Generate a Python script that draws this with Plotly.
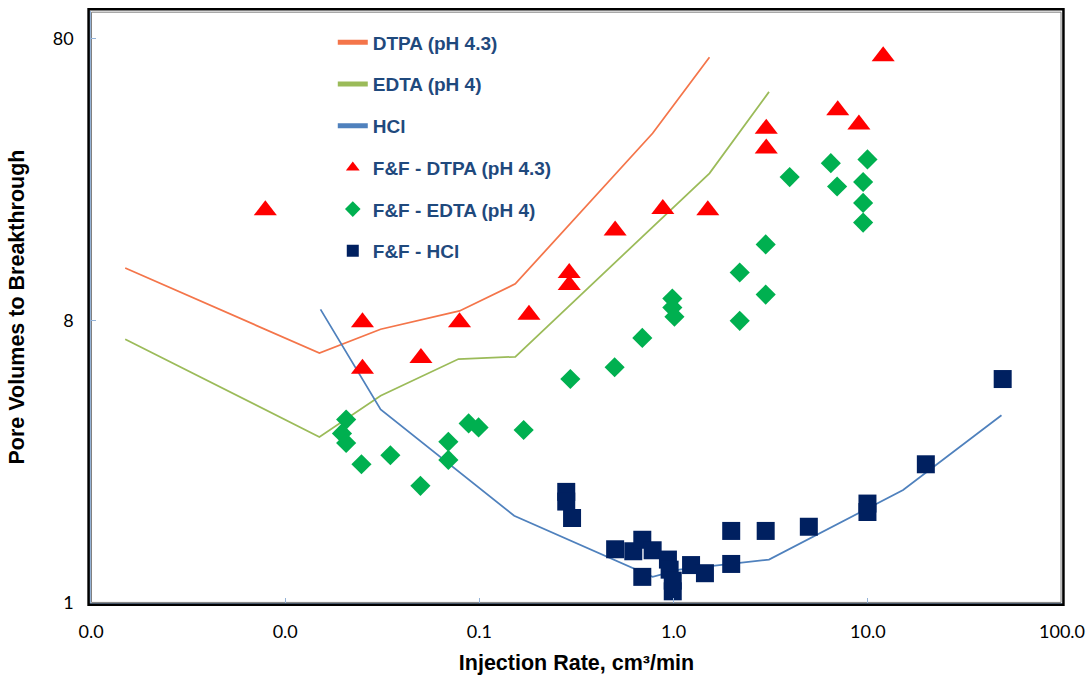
import math
import plotly.graph_objects as go

# Model curves (pore volumes to breakthrough vs injection rate)
dtpa_line_x = [0.0015, 0.015, 0.031, 0.079, 0.153, 0.78, 1.53]
dtpa_line_y = [12.3, 6.14, 7.46, 8.66, 10.8, 36.9, 68.6]

edta_line_x = [0.0015, 0.015, 0.031, 0.078, 0.153, 1.53, 3.1]
edta_line_y = [6.88, 3.10, 4.34, 5.85, 5.96, 26.6, 51.7]

hcl_line_x = [0.0152, 0.031, 0.151, 0.78, 1.07, 3.1, 15.2, 48.8]
hcl_line_y = [8.77, 3.88, 1.63, 0.99, 1.05, 1.14, 2.01, 3.70]

# Experimental points (Fredd & Fogler)
ff_dtpa_x = [0.0079, 0.025, 0.025, 0.05, 0.079, 0.18, 0.29, 0.29, 0.5, 0.88,
             1.5, 3.0, 3.0, 7.0, 9.0, 12.0]
ff_dtpa_y = [19.7, 7.9, 5.4, 5.9, 7.9, 8.4, 11.8, 10.7, 16.7, 19.9,
             19.7, 38.3, 32.6, 44.5, 39.6, 69.1]

ff_edta_x = [0.0206, 0.0196, 0.0206, 0.0247, 0.0348, 0.0497, 0.0692, 0.0692,
             0.088, 0.099, 0.169, 0.294, 0.497, 0.69, 0.985, 0.985, 1.01,
             2.19, 2.19, 2.98, 2.98, 3.96, 6.45, 6.95, 9.96, 9.46, 9.46, 9.46]
ff_edta_y = [3.57, 3.19, 2.95, 2.48, 2.67, 2.08, 2.98, 2.57,
             3.46, 3.35, 3.28, 4.97, 5.47, 6.95, 9.58, 8.90, 8.26,
             11.85, 7.99, 14.9, 9.90, 25.8, 28.9, 23.9, 29.8, 24.8, 20.9, 17.8]

ff_hcl_x = [0.28, 0.28, 0.30, 0.50, 0.62, 0.69, 0.78, 0.935, 0.954, 0.69, 0.99,
            0.99, 1.23, 1.45, 1.98, 1.98, 2.98, 4.97, 9.96, 9.96, 19.9, 49.5]
ff_hcl_y = [1.98, 1.83, 1.60, 1.24, 1.22, 1.34, 1.23, 1.14, 1.05, 0.99, 0.96,
            0.88, 1.09, 1.02, 1.44, 1.10, 1.44, 1.49, 1.80, 1.68, 2.48, 4.97]

# Axis ticks
x_tickvals = [0.001, 0.01, 0.1, 1, 10, 100]
x_ticktext = ["0.0", "0.0", "0.1", "1.0", "10.0", "100.0"]
y_tickvals = [0.8, 8, 80]
y_ticktext = ["1", "8", "80"]

LEGEND_BLUE = "#1F497D"
AXIS_BLUE = "#95B3D7"

fig = go.Figure()

def add_line(x, y, name, color, group):
    fig.add_trace(go.Scatter(x=x, y=y, mode="lines", name=name,
                             legendgroup=group,
                             line=dict(color=color, width=1.75)))

def add_points(x, y, name, color, symbol, size, group):
    fig.add_trace(go.Scatter(x=x, y=y, mode="markers", name=name,
                             legendgroup=group,
                             marker=dict(color=color, symbol=symbol, size=size,
                                         line=dict(width=0))))

add_line(dtpa_line_x, dtpa_line_y, "DTPA (pH 4.3)", "#F4754A", "g1")
add_line(edta_line_x, edta_line_y, "EDTA (pH 4)", "#9BBB59", "g2")
add_line(hcl_line_x, hcl_line_y, "HCl", "#4F81BD", "g3")
add_points(ff_dtpa_x, ff_dtpa_y, "F&F - DTPA (pH 4.3)", "#FF0000", "triangle-up", 20, "g4")
add_points(ff_edta_x, ff_edta_y, "F&F - EDTA (pH 4)", "#00B050", "diamond", 15.5, "g5")
add_points(ff_hcl_x, ff_hcl_y, "F&F - HCl", "#002060", "square", 18, "g6")

tick_font = dict(family="Lato, Open Sans, sans-serif", size=18, color="#000000")
title_font = dict(family="Liberation Sans, Arial, sans-serif", size=21.5,
                  color="#000000", weight="bold")

fig.update_layout(
    width=1091, height=680,
    margin=dict(l=91, r=29, t=11, b=77, autoexpand=False),
    paper_bgcolor="white", plot_bgcolor="white",
    showlegend=True,
    legend=dict(
        x=0.249, y=0.979, xanchor="left", yanchor="top",
        bgcolor="rgba(0,0,0,0)",
        font=dict(family="Liberation Sans, Arial, sans-serif", size=19,
                  color=LEGEND_BLUE, weight="bold"),
        tracegroupgap=14,
        itemsizing="constant",
    ),
    xaxis=dict(
        type="log", range=[-3, 2], automargin=False,
        tickvals=x_tickvals, ticktext=x_ticktext,
        tickfont=tick_font, ticks="inside", ticklen=5, tickcolor=AXIS_BLUE,
        ticklabelstandoff=12,
        showgrid=False, zeroline=False,
        showline=True, linecolor=AXIS_BLUE, linewidth=1.5, mirror=False,
        title=dict(text="Injection Rate, cm³/min", font=title_font, standoff=14),
    ),
    yaxis=dict(
        type="log", range=[math.log10(0.8), 2.0], automargin=False,
        tickvals=y_tickvals, ticktext=y_ticktext,
        tickfont=tick_font, ticks="inside", ticklen=5, tickcolor=AXIS_BLUE,
        ticklabelstandoff=12,
        showgrid=False, zeroline=False,
        showline=True, linecolor=AXIS_BLUE, linewidth=1.5, mirror=False,
        title=dict(text="Pore Volumes to Breakthrough", font=title_font, standoff=22),
    ),
)

# Plot-area frame: dark outer border with a thin grey inner edge
fig.add_shape(type="rect", xref="paper", yref="paper",
              x0=-0.0025, x1=1.0015, y0=-0.003, y1=1.003,
              line=dict(color="#000000", width=2.5), layer="above")
fig.add_shape(type="rect", xref="paper", yref="paper",
              x0=0.0005, x1=0.999, y0=0.001, y1=0.998,
              line=dict(color="#7F7F7F", width=1), layer="below")

fig.write_html("out.html")
